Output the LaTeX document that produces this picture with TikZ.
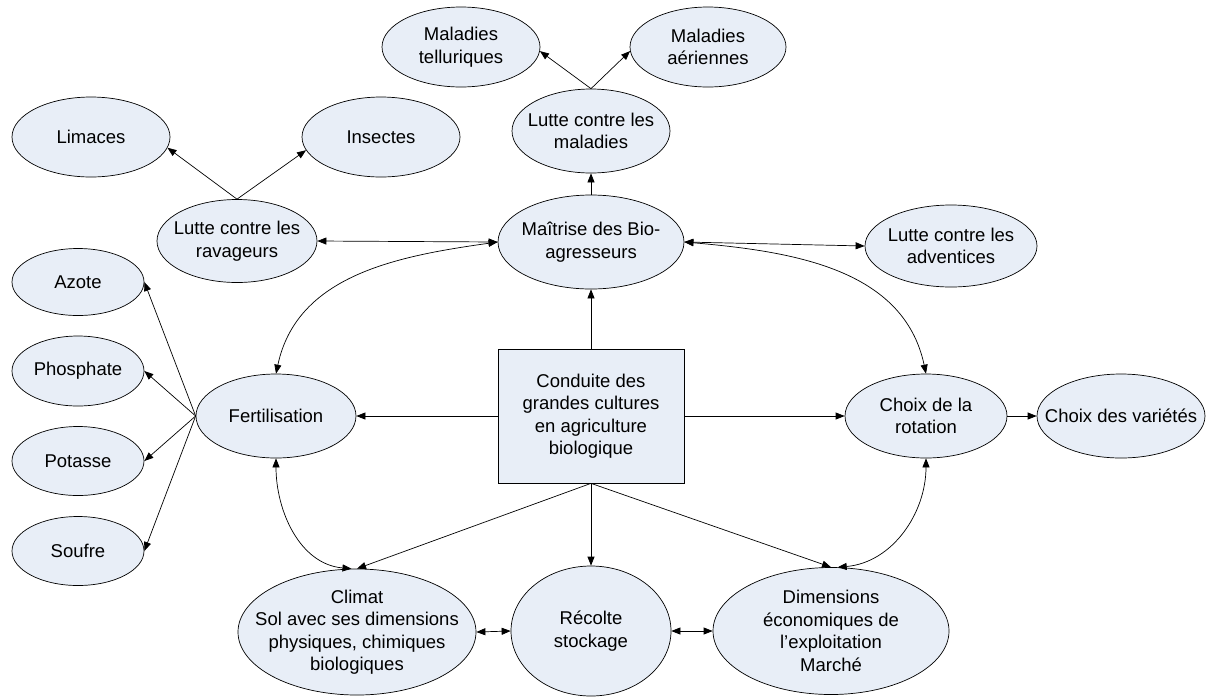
\documentclass[tikz,border=0pt]{standalone}
\usepackage{fontspec}
\setmainfont{Liberation Sans}
\usetikzlibrary{shapes,shapes.misc,arrows.meta}
\definecolor{fondbulle}{RGB}{232,238,247}

\begin{document}
\begin{tikzpicture}[x=1pt,y=-1pt,line width=0.7pt,
      >={Triangle[length=9pt,width=7pt]},
      every node/.append style={font=\fontsize{18.5}{22.5}\selectfont,align=center,inner sep=0pt},
      every label/.append style={font=\fontsize{18.5}{22.5}\selectfont,align=center}]
    \tikzstyle{bulle} = [ellipse,draw,fill=fondbulle]
    \tikzstyle{caisse} = [rectangle,draw,fill=fondbulle,minimum width=186pt,minimum height=134pt]
    \useasboundingbox (0,0) rectangle (1209,697);
    \node (limaces) [bulle,minimum width=158pt,minimum height=80pt,label={center:Limaces}] at (91,137) {};
    \node (insectes) [bulle,minimum width=158pt,minimum height=80pt,label={center:Insectes}] at (381,137) {};
    \node (ravageurs) [bulle,minimum width=160pt,minimum height=83pt,label={center:Lutte contre les\\ravageurs}] at (237,241) {};
    \node (telluriques) [bulle,minimum width=158pt,minimum height=80pt,label={center:Maladies\\telluriques}] at (461,47) {};
    \node (aeriennes) [bulle,minimum width=156pt,minimum height=80pt,label={center:Maladies\\aériennes}] at (708,47) {};
    \node (maladies) [bulle,minimum width=158pt,minimum height=84pt,label={center:Lutte contre les\\maladies}] at (591,131) {};
    \node (maitrise) [bulle,minimum width=186pt,minimum height=94pt,label={center:Maîtrise des Bio-\\agresseurs}] at (591,242) {};
    \node (adventices) [bulle,minimum width=172pt,minimum height=82pt,label={center:Lutte contre les\\adventices}] at (951,246) {};
    \node (azote) [bulle,minimum width=132pt,minimum height=67pt,label={center:Azote}] at (78,282) {};
    \node (phosphate) [bulle,minimum width=132pt,minimum height=70pt,label={center:Phosphate}] at (78,371) {};
    \node (potasse) [bulle,minimum width=132pt,minimum height=69pt,label={center:Potasse}] at (78,461) {};
    \node (soufre) [bulle,minimum width=132pt,minimum height=69pt,label={center:Soufre}] at (78,551) {};
    \node (fertilisation) [bulle,minimum width=160pt,minimum height=84pt,label={center:Fertilisation}] at (276,416) {};
    \node (conduite) [caisse] at (591,416) {Conduite des\\grandes cultures\\en agriculture\\biologique};
    \node (rotation) [bulle,minimum width=162pt,minimum height=84pt,label={center:Choix de la\\rotation}] at (926,416) {};
    \node (varietes) [bulle,minimum width=168pt,minimum height=84pt,label={center:Choix des variétés}] at (1121,416) {};
    \node (climat) [bulle,minimum width=238pt,minimum height=126pt,label={center:Climat\\Sol avec ses dimensions\\physiques, chimiques\\biologiques}] at (357,632) {};
    \node (recolte) [bulle,minimum width=160pt,minimum height=130pt,label={center:Récolte\\stockage}] at (591,631) {};
    \node (dimensions) [bulle,minimum width=236pt,minimum height=127pt,label={center:Dimensions\\économiques de\\l’exploitation\\Marché}] at (831,631) {};
    \draw [->] (ravageurs.north) -- (limaces.-8);
    \draw [->] (ravageurs.north) -- (insectes.190);
    \draw [->] (maladies.north) -- (telluriques.-3);
    \draw [->] (maladies.north) -- (aeriennes.183);
    \draw [<->] (ravageurs.east) -- (maitrise.west);
    \draw [<->] (maitrise.east) -- (adventices.west);
    \draw [->] (maitrise.north) -- (maladies.south);
    \draw [->] (conduite.north) -- (maitrise.south);
    \draw [->] (conduite.west) -- (fertilisation.east);
    \draw [->] (conduite.east) -- (rotation.west);
    \draw [->] (rotation.east) -- (varietes.west);
    \draw [->] (conduite.south) -- (recolte.north);
    \draw [->] (conduite.south) -- (climat.north);
    \draw [->] (conduite.south) -- (dimensions.north);
    \draw [<->] (fertilisation.north) to[out=78,in=188] (maitrise.west);
    \draw [<->] (maitrise.east) to[out=-5,in=102] (rotation.north);
    \draw [<->] (fertilisation.south) to[out=-90,in=175] (climat.95);
    \draw [<->] (rotation.south) to[out=-90,in=5] (dimensions.84);
    \draw [<->] (climat.east) -- (recolte.west);
    \draw [<->] (recolte.east) -- (dimensions.west);
    \foreach \cible in {azote,phosphate,potasse,soufre}
      \draw [->] (fertilisation.west) -- (\cible.east);
\end{tikzpicture}
\end{document}
